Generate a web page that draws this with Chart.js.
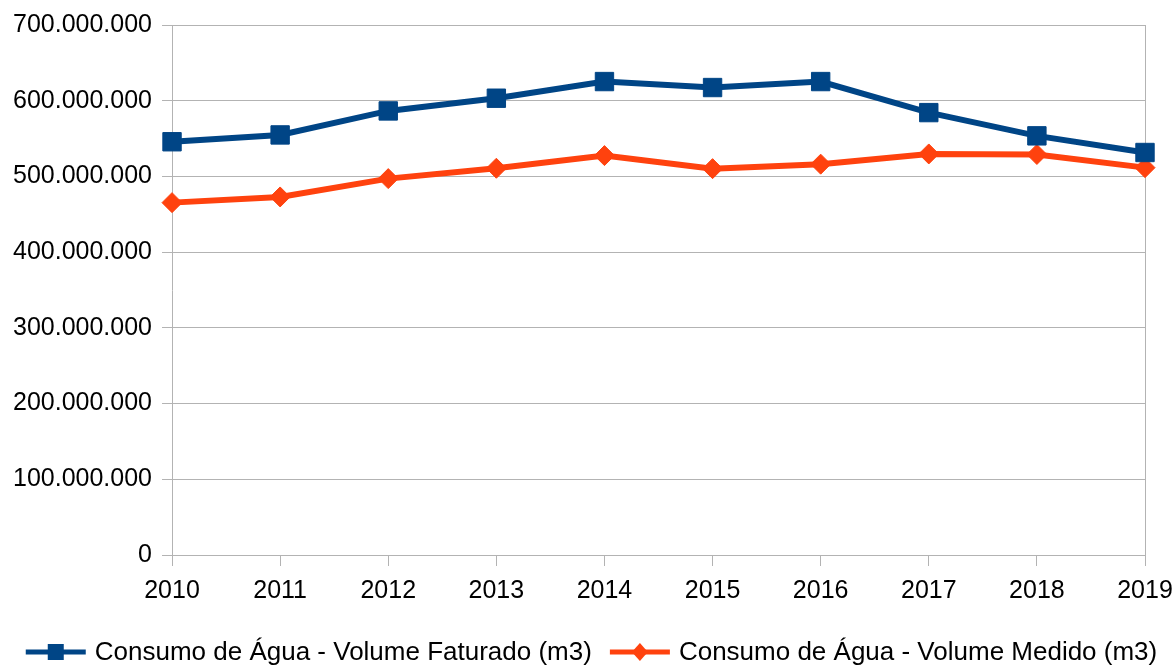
<!DOCTYPE html>
<html>
<head>
<meta charset="utf-8">
<script src="https://cdn.jsdelivr.net/npm/chart.js@4/dist/chart.umd.min.js"></script>
<style>
  html, body { margin: 0; padding: 0; background: #fff; overflow: hidden; }
  #wrap { width: 1175px; height: 666px; position: relative; }
</style>
</head>
<body>
<div id="wrap"><canvas id="chart"></canvas></div>
<script>
const years = ['2010', '2011', '2012', '2013', '2014', '2015', '2016', '2017', '2018', '2019'];
const volumeFaturado = [545800000, 554800000, 586500000, 603300000, 625300000, 617400000, 625300000, 584300000, 553600000, 531600000];
const volumeMedido = [465400000, 472900000, 497100000, 510800000, 527500000, 510300000, 516200000, 529700000, 529000000, 511600000];
const yMax = 700000000;
const yStep = 100000000;

const FONT_FAMILY = "'Liberation Sans', Arial, sans-serif";
const FONT_SIZE = 25;
const LEGEND_FONT_SIZE = 26;
const GRID = '#b3b3b3';

// 700000000 -> 700.000.000
const fmt = (v) => String(v).replace(/\B(?=(\d{3})+(?!\d))/g, '.');

// ── Legend drawn below the chart (line + marker, office-style) ──
const bottomLegend = {
    id: 'bottomLegend',
    afterDraw(chart) {
        const ctx = chart.ctx;
        const lineLen = 60, textGap = 9, itemGap = 18, y = 652;
        ctx.save();
        ctx.font = `${LEGEND_FONT_SIZE}px ${FONT_FAMILY}`;
        ctx.textBaseline = 'middle';
        const items = chart.data.datasets.map(ds => ({ ds, w: lineLen + textGap + ctx.measureText(ds.label).width }));
        const total = items.reduce((s, it) => s + it.w, 0) + itemGap * (items.length - 1);
        let x = (chart.width - total) / 2 + 4;
        items.forEach(it => {
            const c = it.ds.borderColor;
            ctx.strokeStyle = c;
            ctx.fillStyle = c;
            ctx.lineWidth = 5;
            ctx.beginPath();
            ctx.moveTo(x, y);
            ctx.lineTo(x + lineLen, y);
            ctx.stroke();
            const cx = x + lineLen / 2;
            if (it.ds.pointStyle === 'rect') {
                ctx.fillRect(cx - 8, y - 8, 16, 16);
            } else {
                ctx.beginPath();
                ctx.moveTo(cx, y - 9);
                ctx.lineTo(cx + 8, y);
                ctx.lineTo(cx, y + 9);
                ctx.lineTo(cx - 8, y);
                ctx.closePath();
                ctx.fill();
            }
            ctx.fillStyle = '#000';
            ctx.fillText(it.ds.label, x + lineLen + textGap, y + 1);
            x += it.w + itemGap;
        });
        ctx.restore();
    }
};

Chart.defaults.font.family = FONT_FAMILY;
Chart.defaults.font.size = FONT_SIZE;
Chart.defaults.color = '#000';

const ctx = document.getElementById('chart').getContext('2d');
new Chart(ctx, {
    type: 'line',
    data: {
        labels: years,
        datasets: [{
            label: 'Consumo de Água - Volume Faturado (m3)',
            data: volumeFaturado,
            borderColor: '#004586',
            backgroundColor: '#004586',
            borderWidth: 6,
            pointStyle: 'rect',
            pointRadius: 13,
            pointBorderWidth: 1,
            tension: 0
        }, {
            label: 'Consumo de Água - Volume Medido (m3)',
            data: volumeMedido,
            borderColor: '#ff420e',
            backgroundColor: '#ff420e',
            borderWidth: 6,
            pointStyle: 'rectRot',
            pointRadius: 10,
            pointBorderWidth: 1,
            tension: 0
        }]
    },
    options: {
        responsive: true,
        maintainAspectRatio: false,
        animation: false,
        layout: { padding: { left: 3, right: 30, top: 10, bottom: 50 } },
        plugins: {
            legend: { display: false },
            tooltip: { enabled: false }
        },
        scales: {
            x: {
                offset: false,
                afterFit: (s) => { s.paddingRight = 0; s.paddingLeft = 0; },
                grid: {
                    drawOnChartArea: true,
                    color: (c) => c.index === years.length - 1 ? GRID : 'rgba(0,0,0,0)',
                    tickColor: GRID,
                    tickLength: 11
                },
                border: { color: GRID },
                ticks: { padding: 10, maxRotation: 0 }
            },
            y: {
                min: 0,
                max: yMax,
                grid: { color: GRID, tickLength: 10 },
                border: { color: GRID },
                ticks: {
                    stepSize: yStep,
                    padding: 10,
                    callback: (v) => fmt(v)
                }
            }
        }
    },
    plugins: [bottomLegend]
});
</script>
</body>
</html>
